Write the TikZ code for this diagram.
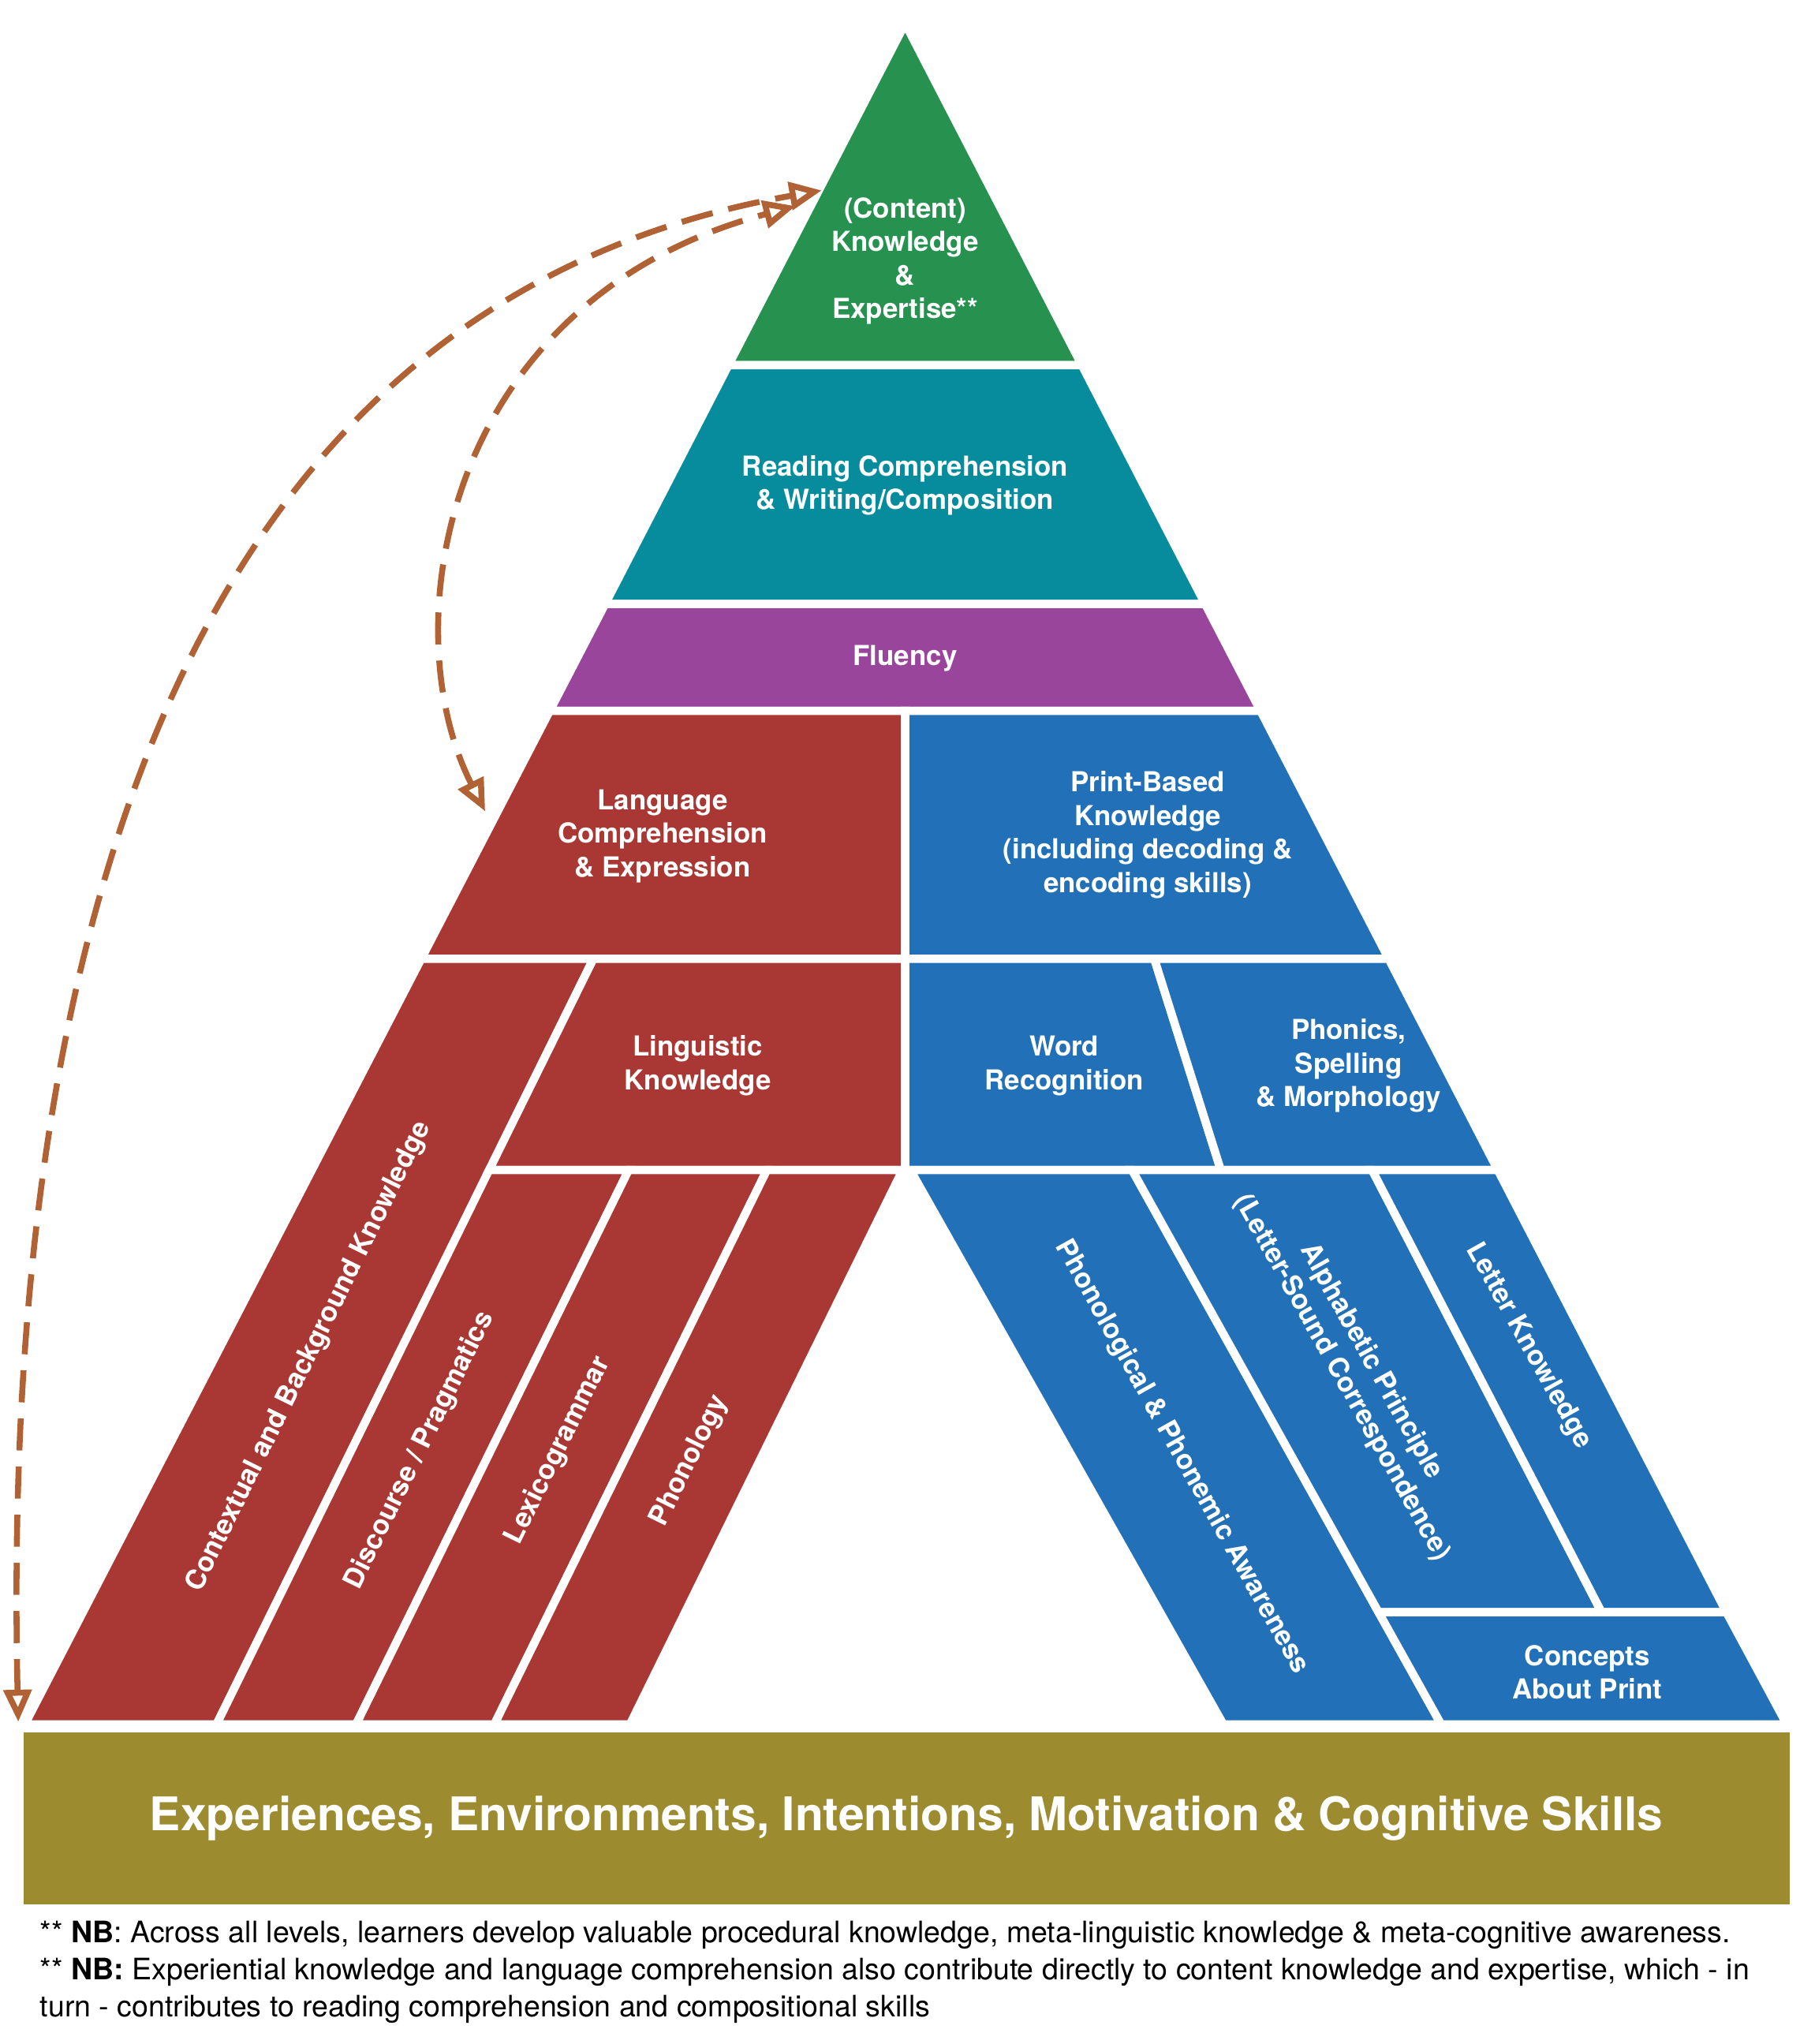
\documentclass[tikz,border=0pt]{standalone}
\usepackage{fontspec}
\setmainfont{TeX Gyre Heros}
\usetikzlibrary{arrows.meta}
\definecolor{cgreen}{HTML}{27914F}
\definecolor{cteal}{HTML}{068C9C}
\definecolor{cpurple}{HTML}{9A459C}
\definecolor{cred}{HTML}{A93834}
\definecolor{cblue}{HTML}{2270B8}
\definecolor{colive}{HTML}{9C8B2F}
\definecolor{cbrown}{HTML}{B06234}
\begin{document}
\begin{tikzpicture}[x=0.01cm,y=-0.01cm,
  blk/.style={draw=white,line width=1.8pt,line join=miter},
  lbl/.style={text=white,font=\fontsize{6}{7.3}\selectfont\bfseries,align=center},
  arr/.style={cbrown,line width=1.3pt,dash pattern=on 7pt off 3.5pt,{Triangle[open,length=7pt,width=6pt]}-{Triangle[open,length=7pt,width=6pt]}}]
\useasboundingbox (0,0) rectangle (1380,1567);
% pyramid levels
\fill[cgreen,blk] (694,18) -- (829.5,280) -- (558.5,280) -- cycle;
\fill[cteal,blk] (558.5,280) -- (829.5,280) -- (924,463) -- (464,463) -- cycle;
\fill[cpurple,blk] (464,463) -- (924,463) -- (966.5,545) -- (421.5,545) -- cycle;
% language side
\fill[cred,blk] (421.5,545) -- (694,545) -- (694,735) -- (323,735) -- cycle;
\fill[cred,blk] (323,735) -- (455,735) -- (166,1322) -- (19,1322) -- cycle;
\fill[cred,blk] (455,735) -- (694,735) -- (694,897) -- (375,897) -- cycle;
\fill[cred,blk] (375,897) -- (482,897) -- (273,1322) -- (166,1322) -- cycle;
\fill[cred,blk] (482,897) -- (588,897) -- (379,1322) -- (273,1322) -- cycle;
\fill[cred,blk] (588,897) -- (692,897) -- (483,1322) -- (379,1322) -- cycle;
% print side
\fill[cblue,blk] (694,545) -- (966.5,545) -- (1064.7,735) -- (694,735) -- cycle;
\fill[cblue,blk] (694,735) -- (885,735) -- (936,897) -- (694,897) -- cycle;
\fill[cblue,blk] (885,735) -- (1064.7,735) -- (1148.4,897) -- (936,897) -- cycle;
\fill[cblue,blk] (698,897) -- (868,897) -- (1105,1322) -- (938,1322) -- cycle;
\fill[cblue,blk] (868,897) -- (1052,897) -- (1228,1236) -- (1057,1236) -- cycle;
\fill[cblue,blk] (1052,897) -- (1148.4,897) -- (1323.7,1236) -- (1228,1236) -- cycle;
\fill[cblue,blk] (1057,1236) -- (1323.7,1236) -- (1370,1322) -- (1105,1322) -- cycle;
% base
\fill[colive] (18,1328) rectangle (1372,1460);
% labels
\node[lbl] (ck) at (694,200) {(Content)\\Knowledge\\\&\\Expertise**};
\node[lbl] (rc) at (694,372) {Reading Comprehension\\\& Writing/Composition};
\node[lbl] (fl) at (694,505) {Fluency};
\node[lbl] (lc) at (508,641) {Language\\Comprehension\\\& Expression};
\node[lbl] (pb) at (880,640) {Print-Based\\Knowledge\\(including decoding \&\\encoding skills)};
\node[lbl] (lk) at (535,817) {Linguistic\\Knowledge};
\node[lbl] (wr) at (816,817) {Word\\Recognition};
\node[lbl] (ph) at (1034,817) {Phonics,\\Spelling\\\& Morphology};
\node[lbl,rotate=63.8] (cb) at (237,1040) {Contextual and Background Knowledge};
\node[lbl,rotate=63.8] (dp) at (322,1112) {Discourse / Pragmatics};
\node[lbl,rotate=63.8] (lg) at (428,1112) {Lexicogrammar};
\node[lbl,rotate=63.8] (pn) at (529,1120) {Phonology};
\node[lbl,rotate=-60.8] (pa) at (906,1117) {Phonological \& Phonemic Awareness};
\node[lbl,rotate=-60.8] (ap) at (1040,1050) {Alphabetic Principle\\(Letter-Sound Correspondence)};
\node[lbl,rotate=-60.8] (lt) at (1172,1032) {Letter Knowledge};
\node[lbl] (cp) at (1217,1282) {Concepts\\About Print};
\node[text=white,font=\fontsize{10.1}{12}\selectfont\bfseries] (ex) at (695,1394)
  {Experiences, Environments, Intentions, Motivation \& Cognitive Skills};
% notes
\node[anchor=west,font=\fontsize{6.45}{7.6}\selectfont,align=left,inner sep=0pt] (nb) at (30,1512)
  {** \textbf{NB}: Across all levels, learners develop valuable procedural knowledge, meta-linguistic knowledge \& meta-cognitive awareness.\\[0.5pt]
   ** \textbf{NB:} Experiential knowledge and language comprehension also contribute directly to content knowledge and expertise, which - in\\[0.5pt]
   turn - contributes to reading comprehension and compositional skills};
% arrows
\coordinate (a1) at (14,1320);
\coordinate (a2) at (630,146);
\coordinate (b1) at (372,622);
\coordinate (b2) at (610,158);
\draw[arr] (a1) .. controls (0,700) and (150,230) .. (a2);
\draw[arr] (b1) .. controls (300,480) and (340,230) .. (b2);
\end{tikzpicture}
\end{document}
